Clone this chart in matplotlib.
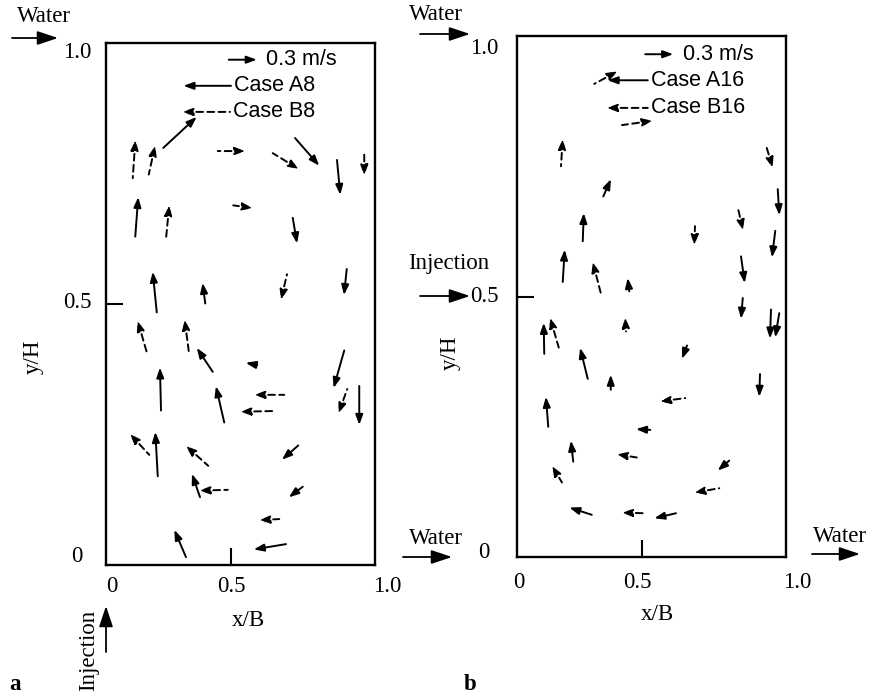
import numpy as np
import matplotlib
matplotlib.use("Agg")
import matplotlib.pyplot as plt

plt.rcParams['font.family'] = ['Liberation Serif', 'DejaVu Serif']

# velocity vectors, panel a (x/B, y/H of the tail, u, v in m/s, case)
a_x = [0.107, 0.171, 0.229, 0.447, 0.667, 0.756, 0.924, 1.033, 0.509, 0.117,
       0.240, 0.747, 0.203, 0.397, 0.724, 0.963, 0.164, 0.333, 0.427, 0.605,
       0.953, 0.220, 0.473, 0.713, 0.671, 0.965, 1.013, 0.173, 0.207, 0.409,
       0.769, 0.376, 0.487, 0.787, 0.693, 0.320, 0.720]
a_y = [0.741, 0.748, 0.799, 0.793, 0.789, 0.818, 0.776, 0.793, 0.689, 0.629,
       0.625, 0.665, 0.484, 0.501, 0.557, 0.567, 0.406, 0.402, 0.370, 0.383,
       0.411, 0.296, 0.273, 0.326, 0.295, 0.337, 0.343, 0.211, 0.170, 0.190,
       0.229, 0.130, 0.144, 0.150, 0.088, 0.015, 0.040]
a_u = [0.028, 0.068, 0.358, 0.296, 0.279, 0.260, 0.035, 0.000, 0.208, 0.032,
       0.035, 0.046, -0.043, -0.028, -0.064, -0.029, -0.100, -0.049, -0.171, -0.124,
       -0.114, -0.011, -0.089, -0.321, -0.358, -0.094, 0.000, -0.207, -0.026, -0.239,
       -0.175, -0.086, -0.304, -0.150, -0.214, -0.125, -0.346]
a_v = [0.410, 0.311, 0.332, 0.000, -0.171, -0.297, -0.375, -0.261, -0.029, 0.425,
       0.361, -0.274, 0.435, 0.221, -0.275, -0.279, 0.346, 0.382, 0.257, 0.025,
       -0.403, 0.461, 0.389, 0.000, -0.008, -0.260, -0.418, 0.225, 0.475, 0.214,
       -0.153, 0.250, -0.008, -0.114, -0.011, 0.293, -0.057]
a_case = list("BBABBAAB" "BAB" "AAABABBAA" "AAABBBABABAABAB" "AA")

# panel b
b_x = [0.309, 0.420, 0.176, 0.345, 0.996, 1.043, 0.883, 0.263, 0.712, 1.033,
       0.183, 0.336, 0.449, 0.896, 0.903, 1.016, 1.049, 0.436, 0.109, 0.167,
       0.680, 0.283, 0.375, 0.972, 0.673, 0.125, 0.533, 0.225, 0.479, 0.849,
       0.180, 0.809, 0.299, 0.509, 0.636]
b_y = [0.908, 0.829, 0.750, 0.692, 0.790, 0.706, 0.671, 0.606, 0.635, 0.626,
       0.528, 0.505, 0.510, 0.577, 0.497, 0.475, 0.468, 0.433, 0.390, 0.402,
       0.406, 0.342, 0.321, 0.351, 0.305, 0.250, 0.244, 0.183, 0.191, 0.185,
       0.143, 0.132, 0.081, 0.084, 0.084]
b_u = [0.251, 0.329, 0.018, 0.082, 0.072, 0.017, 0.057, 0.011, -0.008, -0.035,
       0.021, -0.089, -0.017, 0.040, -0.018, -0.011, -0.043, -0.008, -0.006, -0.093,
       -0.054, -0.082, 0.000, -0.008, -0.271, -0.025, -0.153, -0.025, -0.214, -0.124,
       -0.107, -0.268, -0.240, -0.239, -0.232]
b_v = [0.136, 0.046, 0.292, 0.186, -0.240, -0.279, -0.246, 0.303, -0.204, -0.285,
       0.346, 0.343, 0.143, -0.286, -0.222, -0.311, -0.260, 0.150, 0.332, 0.321,
       -0.144, 0.332, 0.161, -0.243, -0.036, 0.321, 0.008, 0.225, 0.035, -0.107,
       0.179, -0.047, 0.078, 0.006, -0.054]
b_case = list("BBBABABABA" "ABAAAAABAB" "AAAABAAABA" "BBABA")

# legend entries: tail x, tail y, u
leg_a = {"ref": (0.491, 0.968, 0.3), "A": (0.500, 0.918, -0.51), "B": (0.496, 0.868, -0.51)}
leg_b = {"ref": (0.513, 0.965, 0.3), "A": (0.523, 0.915, -0.43), "B": (0.523, 0.862, -0.44)}
names_a = ("Case A8", "Case B8")
names_b = ("Case A16", "Case B16")

PX_PER_MS = 28 / 0.3   # 0.3 m/s reference arrow is 28 px long
W, H = 869, 696

fig = plt.figure(figsize=(W / 100, H / 100), dpi=100)


def vec(ax, x, y, u, v, case):
    ls = '-' if case == 'A' else (0, (3.5, 2.2))
    ax.annotate('', xy=(x, y), xytext=(u * PX_PER_MS, v * PX_PER_MS),
                textcoords='offset pixels',
                arrowprops=dict(arrowstyle='<|-,head_length=0.6,head_width=0.22',
                                color='black', lw=1.4, linestyle=ls,
                                shrinkA=0, shrinkB=0))


def big_arrow(x0, y0, x1, y1):
    fig.add_artist(matplotlib.patches.FancyArrowPatch(
        (x0 / W, 1 - y0 / H), (x1 / W, 1 - y1 / H), transform=fig.transFigure,
        arrowstyle='-|>,head_length=0.9,head_width=0.3', mutation_scale=14,
        color='black', lw=1.3, shrinkA=0, shrinkB=0))


def ftext(px, py, s, **kw):
    kw.setdefault('fontsize', 16.5)
    fig.text(px / W, 1 - py / H, s, ha=kw.pop('ha', 'center'), va=kw.pop('va', 'center'), **kw)


def panel(rect, xs, ys, us, vs, cases, leg, names):
    ax = fig.add_axes(rect)
    ax.set_xlim(0, 1.076)
    ax.set_ylim(0, 1.0)
    ax.set_xticks([0.5])
    ax.set_yticks([0.5])
    ax.tick_params(direction='in', length=12, width=1.5, labelbottom=False, labelleft=False)
    for s in ax.spines.values():
        s.set_linewidth(1.7)
    for x, y, u, v, c in zip(xs, ys, us, vs, cases):
        vec(ax, x, y, u, v, c)
    x, y, u = leg["ref"]
    vec(ax, x, y, u, 0, 'A')
    ax.text(x + 0.15, y, "0.3 m/s", fontsize=15.5, family='Liberation Sans', va='center')
    for key, name in zip("AB", names):
        x, y, u = leg[key]
        vec(ax, x, y, u, 0, key)
        ax.text(x + 0.012, y, name, fontsize=15.5, family='Liberation Sans', va='center')
    return ax


panel([106 / W, 1 - 565 / H, 269 / W, 522 / H], a_x, a_y, a_u, a_v, a_case, leg_a, names_a)
panel([517 / W, 1 - 557 / H, 269 / W, 521 / H], b_x, b_y, b_u, b_v, b_case, leg_b, names_b)

# panel a labels
for px, s in [(112, "0"), (231, "0.5"), (387, "1.0")]:
    ftext(px, 587, s)
for py, s in [(557, "0"), (303, "0.5"), (53, "1.0")]:
    ftext(77, py, s)
ftext(248, 620, "x/B")
ftext(33, 357, "y/H", rotation=90)
ftext(44, 16, "Water")
big_arrow(12, 38, 58, 38)
ftext(436, 539, "Water")
big_arrow(403, 557, 452, 557)
ftext(89, 650, "Injection", rotation=90)
big_arrow(106, 652, 106, 606)
ftext(15, 685, "a", fontweight='bold')

# panel b labels
for px, s in [(519, "0"), (637, "0.5"), (797, "1.0")]:
    ftext(px, 583, s)
for py, s in [(553, "0"), (296, "0.5"), (48, "1.0")]:
    ftext(484, py, s)
ftext(657, 615, "x/B")
ftext(450, 353, "y/H", rotation=90)
ftext(436, 15, "Water")
big_arrow(420, 34, 470, 34)
ftext(449, 263, "Injection")
big_arrow(420, 296, 470, 296)
ftext(813, 536, "Water", ha='left')
big_arrow(812, 554, 860, 554)
ftext(470, 685, "b", fontweight='bold')

fig.savefig("out.png", dpi=100)
